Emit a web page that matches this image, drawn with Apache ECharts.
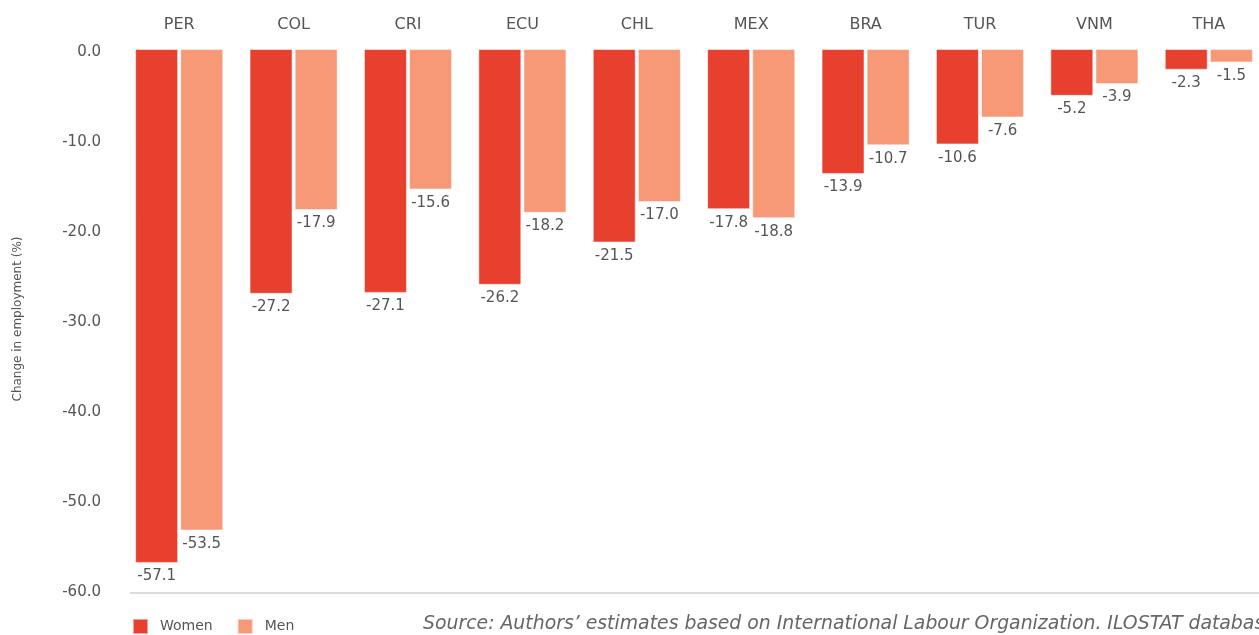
<!DOCTYPE html>
<html>
<head>
<meta charset="utf-8">
<script src="https://cdn.jsdelivr.net/npm/echarts@6/dist/echarts.min.js"></script>
<style>
html,body{margin:0;padding:0;background:#fff;}
#main{width:1259px;height:635px;}
</style>
</head>
<body>
<div id="main"></div>
<script>
var categories = ['PER','COL','CRI','ECU','CHL','MEX','BRA','TUR','VNM','THA'];
var women = [-57.1,-27.2,-27.1,-26.2,-21.5,-17.8,-13.9,-10.6,-5.2,-2.3];
var men = [-53.5,-17.9,-15.6,-18.2,-17.0,-18.8,-10.7,-7.6,-3.9,-1.5];
var seriesNames = ['Women','Men'];
var yTicks = {min:-60, max:0, interval:10};
var sourceText = 'Source: Authors\u2019 estimates based on International Labour Organization. ILOSTAT database';

var FONT = '"DejaVu Sans"';
var chart = echarts.init(document.getElementById('main'));
var labelCfg = {
  show:true, position:'bottom', distance:6, color:'#555', fontSize:15, fontFamily:FONT,
  formatter:function(p){return p.value.toFixed(1);}
};
chart.setOption({
  animation:false,
  textStyle:{fontFamily:FONT},
  grid:{left:122, width:1144, top:49, bottom:46, containLabel:false, outerBoundsMode:'none'},
  legend:{
    data:seriesNames, left:127, top:613, itemWidth:15, itemHeight:15, itemGap:24,
    icon:'rect', textStyle:{color:'#555', fontSize:14, fontFamily:FONT, padding:[0,0,0,7]}
  },
  xAxis:{
    type:'category', data:categories, position:'top',
    axisLine:{show:false}, axisTick:{show:false},
    axisLabel:{color:'#555', fontSize:16, margin:16, fontFamily:FONT}
  },
  yAxis:{
    type:'value', min:yTicks.min, max:yTicks.max, interval:yTicks.interval,
    name:'Change in employment (%)', nameLocation:'middle', nameGap:98, nameRotate:90,
    nameTextStyle:{color:'#555', fontSize:12, fontFamily:FONT},
    axisLine:{show:false}, axisTick:{show:false}, splitLine:{show:false},
    axisLabel:{margin:21,
      formatter:function(v){return '{t|' + v.toFixed(1) + '}';},
      rich:{t:{color:'#555', fontSize:15, fontFamily:FONT, padding:[6,0,0,0]}}}
  },
  series:[
    {name:seriesNames[0], type:'bar', data:women, barGap:'5%', barCategoryGap:'23%',
     itemStyle:{color:'#E8402E', borderColor:'rgba(255,255,255,0.5)', borderWidth:1}, label:labelCfg},
    {name:seriesNames[1], type:'bar', data:men,
     itemStyle:{color:'#F79877', borderColor:'rgba(255,255,255,0.5)', borderWidth:1}, label:labelCfg}
  ],
  graphic:[
    {type:'line', shape:{x1:130,y1:593,x2:1259,y2:593}, style:{stroke:'#dcdcdc', lineWidth:2}},
    {type:'text', x:423, y:634, style:{text:sourceText, fill:'#666', fontSize:18.85, fontStyle:'italic', fontFamily:FONT, textVerticalAlign:'bottom', verticalAlign:'bottom'}}
  ]
});
</script>
</body>
</html>
